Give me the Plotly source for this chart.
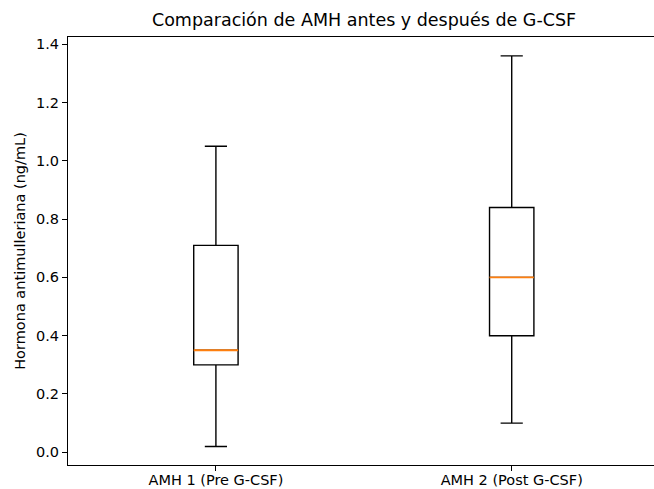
import plotly.graph_objects as go

categories = ["AMH 1 (Pre G-CSF)", "AMH 2 (Post G-CSF)"]
positions = [1, 2]
lower_whisker = [0.02, 0.10]
q1_vals = [0.30, 0.40]
median_vals = [0.35, 0.60]
q3_vals = [0.71, 0.84]
upper_whisker = [1.05, 1.36]
y_ticks = [0.0, 0.2, 0.4, 0.6, 0.8, 1.0, 1.2, 1.4]

BOX_W = 0.15
font_family = "DejaVu Sans"

fig = go.Figure()
for i in range(len(categories)):
    fig.add_trace(go.Box(
        x=[positions[i]],
        q1=[q1_vals[i]], median=[median_vals[i]], q3=[q3_vals[i]],
        lowerfence=[lower_whisker[i]], upperfence=[upper_whisker[i]],
        width=BOX_W, whiskerwidth=0.5,
        fillcolor="rgba(255,255,255,0)",
        line=dict(color="black", width=1.4),
        boxpoints=False, hoverinfo="skip", showlegend=False,
    ))
for i in range(len(categories)):
    fig.add_trace(go.Scatter(
        x=[positions[i] - BOX_W / 2, positions[i] + BOX_W / 2],
        y=[median_vals[i], median_vals[i]],
        mode="lines", line=dict(color="#ff7f0e", width=1.8),
        hoverinfo="skip", showlegend=False,
    ))

fig.update_layout(
    width=654, height=489,
    margin=dict(l=68, r=0, t=37, b=24),
    paper_bgcolor="white", plot_bgcolor="white",
    font=dict(family=font_family, color="black", size=14.5),
    title=dict(text="Comparación de AMH antes y después de G-CSF",
               x=364 / 654, xref="container", xanchor="center",
               y=1 - 20 / 489, yref="container", yanchor="middle",
               font=dict(size=17.5, family=font_family, color="black")),
)
fig.update_xaxes(
    range=[0.5, 2.481], tickvals=positions, ticktext=categories,
    showline=True, linecolor="black", linewidth=1, mirror=True,
    ticks="outside", ticklen=5, tickcolor="black", showgrid=False, zeroline=False,
    tickfont=dict(size=14.5), automargin=False, ticklabelstandoff=-3,
)
fig.update_yaxes(
    range=[-0.0436, 1.4247], tickvals=y_ticks,
    ticktext=[f"{v:.1f}" for v in y_ticks],
    showline=True, linecolor="black", linewidth=1,
    ticks="outside", ticklen=5, tickcolor="black", showgrid=False, zeroline=False,
    tickfont=dict(size=14.5), automargin=False,
    title=dict(text="Hormona antimulleriana (ng/mL)", font=dict(size=14.5), standoff=6),
)

fig.write_html("out.html")
